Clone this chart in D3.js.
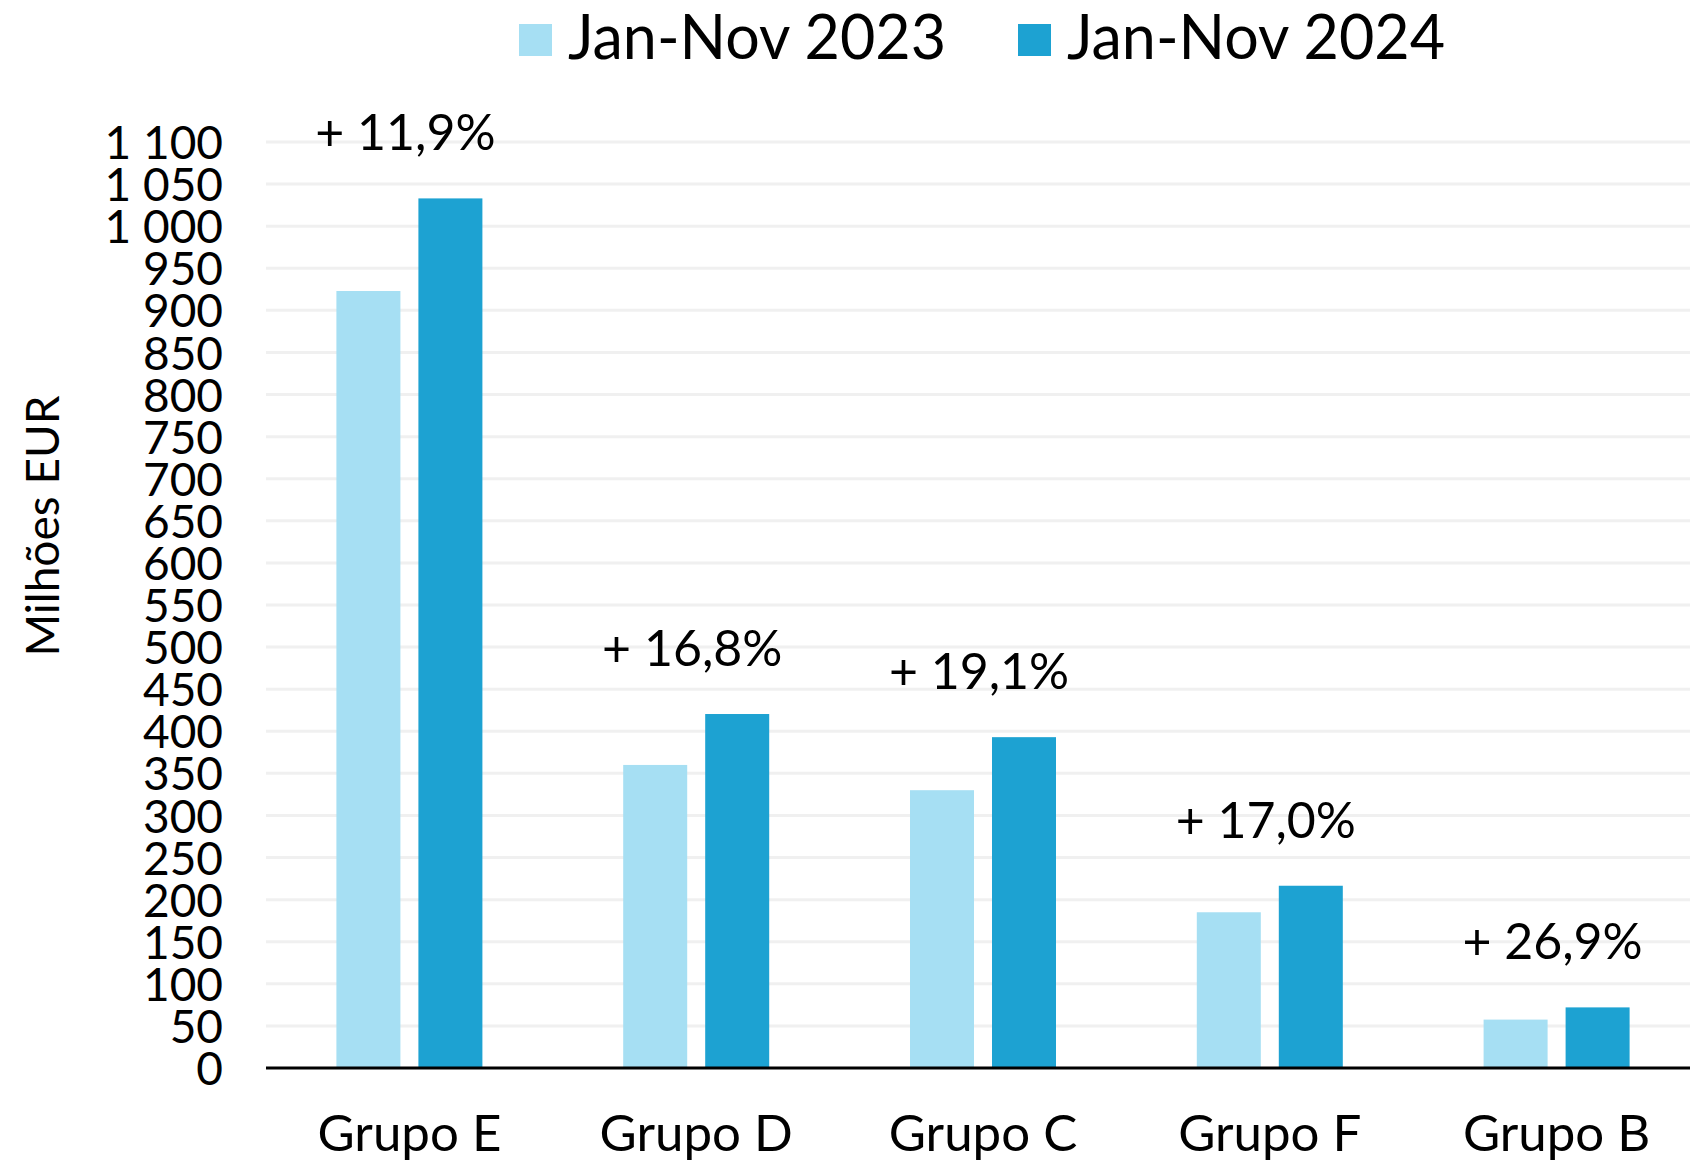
<!DOCTYPE html>
<html>
<head>
<meta charset="utf-8">
<script src="https://cdn.jsdelivr.net/npm/d3@7"></script>
<style>
  body { margin: 0; background: #fff; }
  text { font-family: Lato, "Open Sans", sans-serif; fill: #000; }
</style>
</head>
<body>
<svg id="chart"></svg>
<script>
var groups = ["Grupo E", "Grupo D", "Grupo C", "Grupo F", "Grupo B"]
var values2023 = [923, 360, 330, 185, 57.5]
var values2024 = [1033, 420.5, 393, 216.5, 72]
var changeLabels = ["+ 11,9%", "+ 16,8%", "+ 19,1%", "+ 17,0%", "+ 26,9%"]
var seriesNames = ["Jan-Nov 2023", "Jan-Nov 2024"]
var yTicks = [0, 50, 100, 150, 200, 250, 300, 350, 400, 450, 500, 550,
              600, 650, 700, 750, 800, 850, 900, 950, 1000, 1050, 1100]

var colors = ["#a6dff3", "#1da2d2"]

var drawChart = function(){

  var width = 1690, height = 1161
  var plotLeft = 266, plotTop = 142, plotBottom = 1068
  // the category bands run a little past the right edge of the picture
  var bandEnd = 1700

  var svg = d3.select("#chart")
    .attr("width", width)
    .attr("height", height)

  var x = d3.scaleBand().domain(groups).range([plotLeft, bandEnd]).padding(0)
  var y = d3.scaleLinear().domain([0, 1100]).range([plotBottom, plotTop])

  var barWidth = 64, barGap = 18
  var offsets = [-barGap / 2 - barWidth, barGap / 2]

  var fmt = d3.formatLocale({ decimal: ",", thousands: " ", grouping: [3], currency: ["", ""] }).format(",d")

  // gridlines
  svg.append("g")
    .selectAll("line")
    .data(yTicks.filter(function(d){ return d > 0 }))
    .enter().append("line")
      .attr("x1", plotLeft)
      .attr("x2", width)
      .attr("y1", function(d){ return y(d) })
      .attr("y2", function(d){ return y(d) })
      .style("stroke", "#f0f0f0")
      .style("stroke-width", 3)

  // y axis labels
  var yAxis = d3.axisLeft(y).tickValues(yTicks).tickFormat(fmt).tickSize(0).tickPadding(0)
  var yg = svg.append("g")
    .attr("transform", "translate(223,0)")
    .call(yAxis)
  yg.select(".domain").remove()
  yg.selectAll("text")
    .style("font-size", "46px")
    .style("font-family", "Lato, sans-serif")
    .attr("fill", "#000")
    .attr("dy", "0.36em")

  // bars
  var series = [values2023, values2024]
  series.forEach(function(vals, s){
    svg.append("g")
      .selectAll("rect")
      .data(vals)
      .enter().append("rect")
        .attr("x", function(d, i){ return x(groups[i]) + x.bandwidth() / 2 + offsets[s] })
        .attr("y", function(d){ return y(d) })
        .attr("width", barWidth)
        .attr("height", function(d){ return y(0) - y(d) })
        .style("fill", colors[s])
  })

  // zero axis
  svg.append("line")
    .attr("x1", plotLeft).attr("x2", width)
    .attr("y1", y(0)).attr("y2", y(0))
    .style("stroke", "#000")
    .style("stroke-width", 3)

  // change labels
  svg.append("g")
    .selectAll("text")
    .data(changeLabels)
    .enter().append("text")
      .attr("x", function(d, i){ return x(groups[i]) + x.bandwidth() / 2 - 4 })
      .attr("y", function(d, i){ return y(Math.max(values2023[i], values2024[i])) - 48 })
      .attr("text-anchor", "middle")
      .style("font-size", "50px")
      .text(function(d){ return d })

  // category labels
  var xAxis = d3.axisBottom(x).tickSize(0).tickPadding(0)
  var xg = svg.append("g")
    .attr("transform", "translate(0,1151)")
    .call(xAxis)
  xg.select(".domain").remove()
  xg.selectAll("text")
    .attr("dy", 0)
    .attr("y", 0)
    .style("font-size", "51px")
    .style("font-family", "Lato, sans-serif")
    .attr("fill", "#000")

  // y title
  svg.append("text")
    .attr("transform", "translate(59,526) rotate(-90)")
    .attr("text-anchor", "middle")
    .style("font-size", "46px")
    .text("Milhões EUR")

  // legend
  var legendX = [519, 1018]
  var legend = svg.append("g")
    .selectAll("g")
    .data(seriesNames)
    .enter().append("g")
      .attr("transform", function(d, i){ return "translate(" + legendX[i] + ",0)" })
  legend.append("rect")
    .attr("x", 0).attr("y", 24)
    .attr("width", 33).attr("height", 32)
    .style("fill", function(d, i){ return colors[i] })
  legend.append("text")
    .attr("x", 49).attr("y", 59)
    .style("font-size", "61px")
    .text(function(d){ return d })
}

drawChart()
</script>
</body>
</html>
